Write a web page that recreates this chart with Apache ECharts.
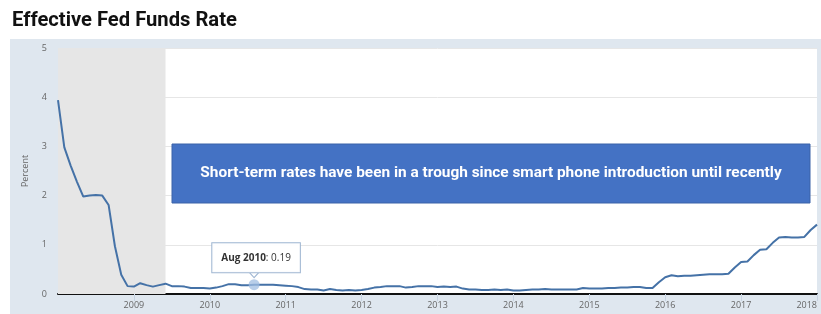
<!DOCTYPE html>
<html>
<head>
<meta charset="utf-8">
<script src="https://cdn.jsdelivr.net/npm/echarts@6/dist/echarts.min.js"></script>
<style>
html,body{margin:0;padding:0;background:#fff;}
#c{width:821px;height:314px;}
</style>
</head>
<body>
<div id="c"></div>
<script>
// Effective Fed Funds Rate, monthly, percent
const startYear = 2008;
const rate2008 = [3.94, 2.98, 2.61, 2.28, 1.98, 2.00, 2.01, 2.00, 1.81, 0.97, 0.39, 0.16];
const rate2009 = [0.15, 0.22, 0.18, 0.15, 0.18, 0.21, 0.16, 0.16, 0.15, 0.12, 0.12, 0.12];
const rate2010 = [0.11, 0.13, 0.16, 0.20, 0.20, 0.18, 0.18, 0.19, 0.19, 0.19, 0.19, 0.18];
const rate2011 = [0.17, 0.16, 0.14, 0.10, 0.09, 0.09, 0.07, 0.10, 0.08, 0.07, 0.08, 0.07];
const rate2012 = [0.08, 0.10, 0.13, 0.14, 0.16, 0.16, 0.16, 0.13, 0.14, 0.16, 0.16, 0.16];
const rate2013 = [0.14, 0.15, 0.14, 0.15, 0.11, 0.09, 0.09, 0.08, 0.08, 0.09, 0.08, 0.09];
const rate2014 = [0.07, 0.07, 0.08, 0.09, 0.09, 0.10, 0.09, 0.09, 0.09, 0.09, 0.09, 0.12];
const rate2015 = [0.11, 0.11, 0.11, 0.12, 0.12, 0.13, 0.13, 0.14, 0.14, 0.12, 0.12, 0.24];
const rate2016 = [0.34, 0.38, 0.36, 0.37, 0.37, 0.38, 0.39, 0.40, 0.40, 0.40, 0.41, 0.54];
const rate2017 = [0.65, 0.66, 0.79, 0.90, 0.91, 1.04, 1.15, 1.16, 1.15, 1.15, 1.16, 1.30];
const rate2018 = [1.41];
const yTicks = [0, 1, 2, 3, 4, 5];
const recessionStart = '2008-01';
const recessionEnd = '2009-06';
const highlightMonth = '2010-08';
const highlightLabel = 'Aug 2010';
const titleText = 'Effective Fed Funds Rate';
const noteText = 'Short-term rates have been in a trough since smart phone introduction until recently';

const yearly = [rate2008, rate2009, rate2010, rate2011, rate2012, rate2013, rate2014, rate2015, rate2016, rate2017, rate2018];
const months = [];
const values = [];
yearly.forEach(function (arr, yi) {
  arr.forEach(function (v, mi) {
    months.push((startYear + yi) + '-' + String(mi + 1).padStart(2, '0'));
    values.push(v);
  });
});
const highlightValue = values[months.indexOf(highlightMonth)];

function isYearTick(index, value) {
  return value.slice(5) === '01' && value !== months[0];
}

const chart = echarts.init(document.getElementById('c'), null, {renderer: 'canvas'});
chart.setOption({
  animation: false,
  backgroundColor: '#ffffff',
  textStyle: {fontFamily: 'Open Sans, sans-serif'},
  title: {
    text: titleText,
    left: 7, top: 6,
    textStyle: {fontFamily: 'Roboto, sans-serif', fontWeight: 'bold', fontSize: 20.2, color: '#111'}
  },
  graphic: [
    {type: 'rect', z: -10, shape: {x: 10, y: 39, width: 811, height: 275}, style: {fill: '#dfe7ef'}},
    {type: 'rect', z: 100, shape: {x: 172, y: 144, width: 638, height: 59}, style: {fill: '#4472c4', stroke: '#3a62a8', lineWidth: 1}},
    {type: 'text', z: 101, x: 491, y: 173, style: {text: noteText, fill: '#ffffff', font: 'bold 15.4px Roboto, sans-serif', align: 'center', verticalAlign: 'middle'}}
  ],
  grid: {left: 58, right: 4, top: 48, bottom: 20, show: true, backgroundColor: '#ffffff', borderWidth: 0},
  xAxis: {
    type: 'category',
    data: months,
    boundaryGap: false,
    axisLine: {lineStyle: {color: '#111', width: 2}},
    axisTick: {show: true, interval: isYearTick, length: 7, lineStyle: {color: '#c8d4e2'}},
    axisLabel: {
      interval: isYearTick,
      formatter: function (v) { return v.slice(0, 4); },
      color: '#666', fontSize: 9, margin: 7,
      alignMaxLabel: 'right'
    },
    splitLine: {show: false}
  },
  yAxis: {
    type: 'value',
    min: yTicks[0], max: yTicks[yTicks.length - 1], interval: 1,
    name: 'Percent',
    nameLocation: 'middle',
    nameGap: 28,
    nameTextStyle: {color: '#666', fontSize: 9},
    axisLine: {show: false},
    axisTick: {show: false},
    axisLabel: {color: '#666', fontSize: 9, margin: 11},
    splitLine: {lineStyle: {color: '#e6e6e6', width: 1}}
  },
  series: [{
    type: 'line',
    data: values,
    symbol: 'none',
    lineStyle: {color: '#4572a7', width: 2},
    markArea: {
      silent: true,
      itemStyle: {color: '#e6e6e6'},
      data: [[{xAxis: recessionStart}, {xAxis: recessionEnd}]]
    },
    markPoint: {
      silent: true,
      data: [
        {
          coord: [highlightMonth, highlightValue],
          symbol: 'triangle', symbolRotate: 180, symbolSize: [11, 6], symbolOffset: [0, -10],
          itemStyle: {color: '#ffffff', borderColor: '#9fb6d2', borderWidth: 1},
          label: {show: false}
        },
        {
          coord: [highlightMonth, highlightValue],
          symbol: 'circle', symbolSize: 11,
          itemStyle: {color: 'rgba(160,190,225,0.75)'},
          label: {
            show: true,
            position: 'top',
            distance: 7,
            offset: [2, 0],
            formatter: '{b|' + highlightLabel + '}: ' + highlightValue.toFixed(2),
            backgroundColor: 'rgba(255,255,255,0.95)',
            borderColor: '#9fb6d2', borderWidth: 1,
            padding: [10, 9, 9, 9],
            color: '#333', fontSize: 10,
            rich: {b: {fontWeight: 'bold', color: '#333', fontSize: 10}}
          }
        }
      ]
    }
  }]
});
</script>
</body>
</html>
